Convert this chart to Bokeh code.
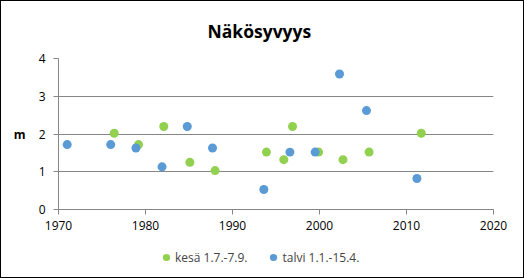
from bokeh.plotting import figure
from bokeh.layouts import column
from bokeh.models import Range1d, Legend, LegendItem, FixedTicker, LinearAxis
from bokeh.embed import file_html
from bokeh.resources import INLINE

title_text = "Näkösyvyys"
y_label = "m"
x_ticks = [1970, 1980, 1990, 2000, 2010, 2020]
y_ticks = [0, 1, 2, 3, 4]

summer_name = "kesä 1.7.-7.9."
summer_year = [1976.4, 1979.2, 1982.1, 1985.1, 1988.0, 1993.9, 1995.9, 1996.9, 1999.9, 2002.7, 2005.7, 2011.7]
summer_depth = [2.02, 1.72, 2.2, 1.25, 1.03, 1.52, 1.32, 2.2, 1.52, 1.32, 1.52, 2.02]

winter_name = "talvi 1.1.-15.4."
winter_year = [1971.0, 1976.0, 1978.9, 1981.9, 1984.8, 1987.7, 1993.6, 1996.6, 1999.5, 2002.3, 2005.4, 2011.2]
winter_depth = [1.72, 1.72, 1.63, 1.13, 2.2, 1.63, 0.53, 1.52, 1.52, 3.59, 2.62, 0.82]

GREEN = "#92D050"
BLUE = "#5B9BD5"
GRID = "#868686"
FONT = "Open Sans"

p = figure(width=522, height=236, output_backend="svg", toolbar_location=None,
           x_range=Range1d(1970, 2020), y_range=Range1d(0, 4),
           min_border_left=57, min_border_right=30, min_border_top=55, min_border_bottom=28)
p.outline_line_color = None
p.background_fill_color = "white"
p.border_fill_color = "white"

p.title.text = title_text
p.title.align = "left"
p.title.text_font = FONT
p.title.text_font_size = "17.5px"
p.title.text_font_style = "bold"
p.title.text_color = "black"
p.title.standoff = 31
p.title.offset = 149

p.xgrid.grid_line_color = None
p.ygrid.grid_line_color = GRID
p.ygrid.ticker = FixedTicker(ticks=y_ticks)

for ax in (p.xaxis[0], p.yaxis[0]):
    ax.axis_line_color = GRID
    ax.major_tick_line_color = GRID
    ax.major_tick_in = 0
    ax.major_tick_out = 5
    ax.minor_tick_line_color = None
    ax.major_label_text_font = FONT
    ax.major_label_text_font_size = "12px"
    ax.major_label_text_color = "black"
p.xaxis.ticker = FixedTicker(ticks=x_ticks)
p.yaxis.ticker = FixedTicker(ticks=y_ticks)
p.xaxis.major_label_standoff = 6
p.yaxis.major_label_standoff = 8

# horizontal unit label "m" beside the value axis, at the level of 2
unit_axis = LinearAxis(ticker=FixedTicker(ticks=[2]), major_label_overrides={2: y_label},
                       axis_line_color=None, major_tick_line_color=None,
                       minor_tick_line_color=None, major_label_standoff=4,
                       major_label_text_font=FONT, major_label_text_font_size="12px",
                       major_label_text_font_style="bold", major_label_text_color="black")
p.add_layout(unit_axis, "left")

p.scatter(summer_year, summer_depth, size=9, color=GREEN, line_color=None)
p.scatter(winter_year, winter_depth, size=9, color=BLUE, line_color=None)

# legend strip below the chart; its swatch renderers hold one series point
# each, which lies outside this strip's ranges, so only the legend shows
lg = figure(width=522, height=40, output_backend="svg", toolbar_location=None,
            x_range=Range1d(0, 1), y_range=Range1d(0, 1),
            x_axis_type=None, y_axis_type=None,
            min_border_left=0, min_border_right=0, min_border_top=0, min_border_bottom=0)
lg.outline_line_color = None
lg.grid.visible = False
lg.background_fill_color = "white"
lg.border_fill_color = "white"
s1 = lg.scatter(x=summer_year[:1], y=summer_depth[:1], size=8, color=GREEN, line_color=None)
s2 = lg.scatter(x=winter_year[:1], y=winter_depth[:1], size=8, color=BLUE, line_color=None)
legend = Legend(items=[LegendItem(label=summer_name, renderers=[s1]),
                       LegendItem(label=winter_name, renderers=[s2])],
                orientation="horizontal", location=(99, 11),
                label_text_font=FONT, label_text_font_size="12px",
                glyph_width=18, glyph_height=18, label_standoff=0, spacing=17,
                label_height=16, padding=0, margin=0,
                border_line_color=None, background_fill_alpha=0)
lg.add_layout(legend)

layout = column(p, lg, spacing=0, styles={"border": "1px solid black"})

open("out.html", "w").write(file_html(layout, INLINE))
